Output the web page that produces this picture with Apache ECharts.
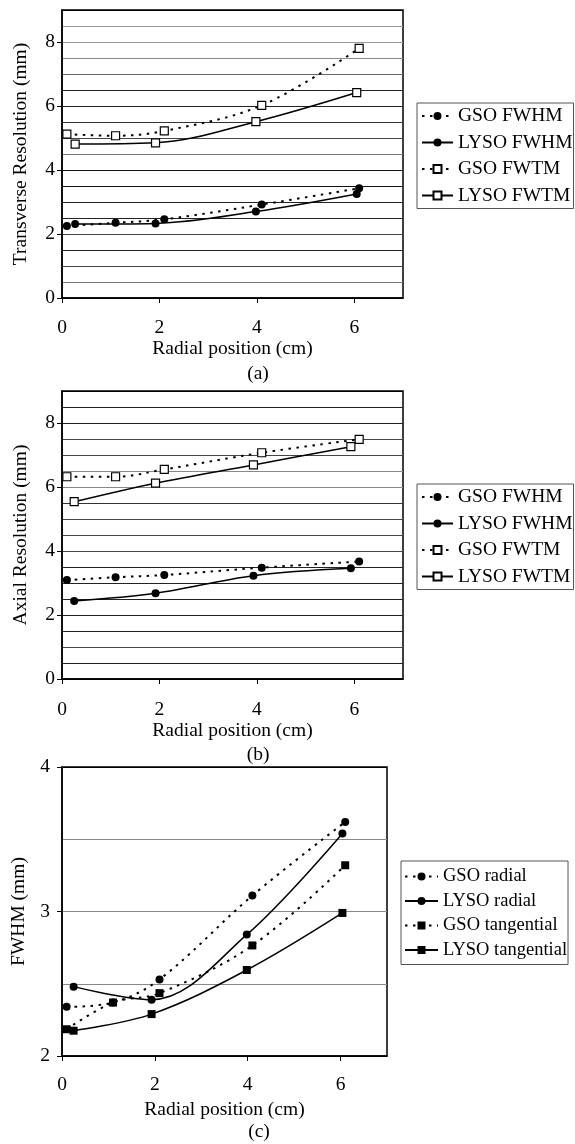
<!DOCTYPE html>
<html>
<head>
<meta charset="utf-8">
<script src="https://cdn.jsdelivr.net/npm/echarts@6/dist/echarts.min.js"></script>
<style>
  html, body { margin: 0; padding: 0; background: #fff; }
  #chart { width: 575px; height: 1144px; }
</style>
</head>
<body>
<div id="chart"></div>
<script>
// Radial source positions (cm)
const gsoPositions = [0.1, 1.1, 2.1, 4.1, 6.1];
const lysoPositionsA = [0.27, 1.92, 3.98, 6.05];
const lysoPositionsB = [0.25, 1.92, 3.93, 5.93];
const lysoPositionsC = [0.25, 1.93, 3.98, 6.04];

// (a) transverse resolution (mm)
const transGsoFwhm = [2.25, 2.35, 2.46, 2.92, 3.43];
const transLysoFwhm = [2.31, 2.33, 2.70, 3.25];
const transGsoFwtm = [5.12, 5.07, 5.22, 6.02, 7.80];
const transLysoFwtm = [4.81, 4.85, 5.51, 6.42];

// (b) axial resolution (mm)
const axialGsoFwhm = [3.09, 3.18, 3.25, 3.48, 3.67];
const axialLysoFwhm = [2.44, 2.68, 3.23, 3.46];
const axialGsoFwtm = [6.32, 6.32, 6.55, 7.07, 7.49];
const axialLysoFwtm = [5.54, 6.12, 6.69, 7.26];

// (c) FWHM (mm)
const gsoRadial = [2.34, 2.37, 2.53, 3.11, 3.62];
const lysoRadial = [2.48, 2.39, 2.84, 3.54];
const gsoTangential = [2.185, 2.37, 2.435, 2.765, 3.32];
const lysoTangential = [2.175, 2.29, 2.595, 2.99];

// Tick labels
const radialTicks = [0, 2, 4, 6];
const resolutionTicks = [0, 2, 4, 6, 8];
const fwhmTicks = [2, 3, 4];

// Legend entries
const namesAB = ['GSO FWHM', 'LYSO FWHM', 'GSO FWTM', 'LYSO FWTM'];
const namesC = ['GSO radial', 'LYSO radial', 'GSO tangential', 'LYSO tangential'];

const SERIF = '"Liberation Serif", "Times New Roman", serif';
const DOTS = [2.5, 5.5];

// Shades of the half-millimetre rules, bottom to top
const shadesA = ['#000', '#777', '#444', '#222', '#444', '#222', '#222', '#111', '#111', '#777',
                 '#444', '#333', '#222', '#222', '#666', '#888', '#999', '#999', '#000'];
const shadesB = ['#000', '#222', '#444', '#222', '#222', '#222', '#222', '#222', '#444', '#444',
                 '#444', '#333', '#888', '#888', '#444', '#444', '#222', '#222', '#000'];
const shadesC = ['#000', '#888', '#888', '#888', '#000'];

function pairs(xs, ys) { return xs.map((x, i) => [x, ys[i]]); }

function line(name, idx, xs, ys, dotted, symbol, hollow, size) {
  return {
    name: name, type: 'line', xAxisIndex: idx, yAxisIndex: idx,
    data: pairs(xs, ys),
    smooth: 0.35,
    symbol: symbol, symbolSize: size, showSymbol: true,
    lineStyle: { color: '#000', width: dotted ? 2 : 1.5, type: dotted ? DOTS : 'solid' },
    itemStyle: { color: hollow ? '#fff' : '#000', borderColor: '#000', borderWidth: hollow ? 1.2 : 0 },
    emphasis: { disabled: true },
    z: hollow ? 3 : 4
  };
}

// Labelled axis: ticks and labels only at the given values
function yAxis(idx, min, max, ticks, labelMargin, name) {
  return {
    type: 'value', gridIndex: idx, min: min, max: max, interval: 0.5,
    name: name, nameLocation: 'middle', nameGap: 31,
    nameTextStyle: { fontFamily: SERIF, fontSize: 19.5, color: '#000' },
    axisLine: { show: true, lineStyle: { color: '#000', width: 1.5 } },
    axisTick: { show: true, customValues: ticks, length: 5, lineStyle: { color: '#000', width: 1 } },
    axisLabel: {
      customValues: ticks, margin: labelMargin, fontFamily: SERIF, fontSize: 19.5, color: '#000',
      formatter: v => (ticks.indexOf(v) >= 0 ? String(v) : '')
    },
    splitLine: { show: false }
  };
}

// Companion axis that only draws the horizontal rules every 0.5 mm
function ruleAxis(idx, min, max, shades) {
  return {
    type: 'value', gridIndex: idx, min: min, max: max, interval: 0.5, position: 'left',
    axisLine: { show: false }, axisTick: { show: false }, axisLabel: { show: false },
    splitLine: { show: true, lineStyle: { color: shades, width: 1 } }
  };
}

function xAxis(idx, nameGap, labelMargin) {
  return {
    type: 'value', gridIndex: idx, min: 0, max: 7, interval: 1,
    name: 'Radial position (cm)', nameLocation: 'middle', nameGap: nameGap,
    nameTextStyle: { fontFamily: SERIF, fontSize: 19.5, color: '#000' },
    axisLine: { show: true, onZero: false, lineStyle: { color: '#000', width: 1.5 } },
    axisTick: { show: true, customValues: radialTicks, length: 5, lineStyle: { color: '#000', width: 1 } },
    axisLabel: {
      customValues: radialTicks, margin: labelMargin, fontFamily: SERIF, fontSize: 19.5, color: '#000',
      formatter: v => (radialTicks.indexOf(v) >= 0 ? String(v) : '')
    },
    splitLine: { show: false }
  };
}

function legend(names, left, top, fontSize, itemGap, padding, itemWidth) {
  return {
    orient: 'vertical', left: left, top: top, data: names,
    itemWidth: itemWidth, itemHeight: 10, itemGap: itemGap, padding: padding,
    borderColor: '#555', borderWidth: 1, backgroundColor: '#fff', selectedMode: false,
    textStyle: { fontFamily: SERIF, fontSize: fontSize, color: '#000' }
  };
}

function caption(text, x, y) {
  return {
    type: 'text', x: x, y: y,
    style: { text: text, font: '19.5px ' + SERIF, fill: '#000', textAlign: 'center', textVerticalAlign: 'middle' }
  };
}

const frame = { show: true, borderColor: '#000', borderWidth: 1.5, backgroundColor: 'transparent' };

const option = {
  animation: false,
  backgroundColor: '#fff',
  grid: [
    Object.assign({ left: 62, top: 10, width: 341, height: 288 }, frame),
    Object.assign({ left: 62, top: 391, width: 341, height: 288 }, frame),
    Object.assign({ left: 62, top: 767, width: 325, height: 289 }, frame)
  ],
  xAxis: [xAxis(0, 41, 20), xAxis(1, 42, 21), xAxis(2, 44, 19)],
  yAxis: [
    yAxis(0, 0, 9, resolutionTicks, 7, 'Transverse Resolution (mm)'),
    yAxis(1, 0, 9, resolutionTicks, 7, 'Axial Resolution (mm)'),
    yAxis(2, 2, 4, fwhmTicks, 12, 'FWHM (mm)'),
    ruleAxis(0, 0, 9, shadesA),
    ruleAxis(1, 0, 9, shadesB),
    ruleAxis(2, 2, 4, shadesC)
  ],
  legend: [
    legend(namesAB, 417, 103, 19.5, 6.5, [3, 1, 3, 4], 31),
    legend(namesAB, 417, 484, 19.5, 6.5, [3, 1, 3, 4], 31),
    legend(namesC, 401, 861, 18.5, 5.5, [6, 1, 5, 3], 33)
  ],
  graphic: [caption('(a)', 258, 374), caption('(b)', 258, 755), caption('(c)', 259, 1132)],
  series: [
    line('GSO FWHM', 0, gsoPositions, transGsoFwhm, true, 'circle', false, 8),
    line('LYSO FWHM', 0, lysoPositionsA, transLysoFwhm, false, 'circle', false, 8),
    line('GSO FWTM', 0, gsoPositions, transGsoFwtm, true, 'rect', true, 8),
    line('LYSO FWTM', 0, lysoPositionsA, transLysoFwtm, false, 'rect', true, 8),

    line('GSO FWHM', 1, gsoPositions, axialGsoFwhm, true, 'circle', false, 8),
    line('LYSO FWHM', 1, lysoPositionsB, axialLysoFwhm, false, 'circle', false, 8),
    line('GSO FWTM', 1, gsoPositions, axialGsoFwtm, true, 'rect', true, 8),
    line('LYSO FWTM', 1, lysoPositionsB, axialLysoFwtm, false, 'rect', true, 8),

    line('GSO radial', 2, gsoPositions, gsoRadial, true, 'circle', false, 8),
    line('LYSO radial', 2, lysoPositionsC, lysoRadial, false, 'circle', false, 8),
    line('GSO tangential', 2, gsoPositions, gsoTangential, true, 'rect', false, 8),
    line('LYSO tangential', 2, lysoPositionsC, lysoTangential, false, 'rect', false, 8)
  ]
};

const chart = echarts.init(document.getElementById('chart'), null, { renderer: 'canvas' });
chart.setOption(option);
</script>
</body>
</html>
